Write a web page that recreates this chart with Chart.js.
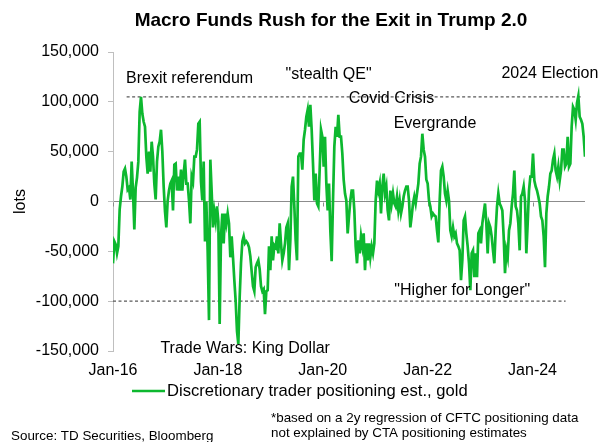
<!DOCTYPE html>
<html>
<head>
<meta charset="utf-8">
<script src="https://cdn.jsdelivr.net/npm/chart.js@4.4.1/dist/chart.umd.min.js"></script>
<style>
  html, body { margin: 0; padding: 0; background: #fff; }
  canvas { display: block; }
</style>
</head>
<body>
<canvas id="chart" width="605" height="442"></canvas>
<script>
// Discretionary trader positioning estimate in gold, thousands of lots,
// sampled about every 9.3 days from the start of 2016.
var startYear = 2016.0;
var stepYears = 0.025424;
var positioningK = [
  -62, -40, -43, -52, -45, -8, 5, 15, 30, 33, 25, 12, 14, 2, 40, 10, -28, 14, 24, 40,
  90, 105, 88, 80, 75, 45, 28, 50, 30, 60, 45, 18, 2, 40, 55, 60, 72, 50, 15, -10,
  -26, 1, 11, 18, 21, -9, 37, 38, 11, 25, 11, 32, 11, 28, 42, 18,
  18, 1, -22, 25, 20, 45, 45, 52, 78, 80, 20, 1, 40, -40, 0, -50, -119, 42, 10, -26,
  -10, -20, -5, -20, -123, -35, -12, -42, -12, -22, -12, -22, -56, -35, -56, -79, -100, -130, -143, -96,
  -62, -40, -35, -42, -40, -42, -46, -55, -70, -85, -90, -66, -62, -59, -68, -85, -90, -88, -113, -90,
  -89, -45, -69, -35, -59, -44, -46, -35, -52, -22, -42, -59, -52, -42, -26, -22, -69, -39, 15, 25,
  -5, -39, -59, 45, 48, 48, 32, 62, 72, 85, 92, 75, 97, 72, 38, 1, 28, -2, -5, 32,
  72, 65, 35, 65, 18, -9, 18, -29, -60, 1, 55, 75, 65, 87, 65, 65, 48, 22, 8, 1,
  -32, -15, 1, 11, 11, -9, -45, -62, -39, -52, -35, -45, -32, -69, -42, -59, -42, -56, -45, -52,
  -42, 1, 21, 11, 18, -12, 15, 28, 8, 15, -9, -19, 11, -2, 8, -2, -5, 5, -9, 1,
  -12, -5, 5, 11, 15, 15, 1, -26, -15, -2, 5, -2, 8, 18, 38, 45, 68, 52, 45, 22,
  18, 1, -5, -15, -12, -14, -15, -29, -41, 1, 31, 35, 25, 8, 1, 11, 1, -29, -35, -26,
  -35, -32, -42, -45, -49, -79, -59, -19, -15, -32, -45, -62, -89, -52, -49, -76, -52, -76, -32, -29,
  -42, -22, -12, -2, -22, -52, -22, -26, -35, -49, -62, -29, -5, 8, -2, -5, -9, -35, -72, -49,
  -56, -29, -22, -5, 8, 31, -5, -9, -22, -49, 5, 8, 15, 1, -52, -22, 11, 25, 25, 48,
  21, 15, 11, 5, -2, -15, -19, -35, -66, -12, 5, 15, 28, 31, 42, 48, 31, 25, 35, 21,
  31, 52, 52, 35, 38, 65, 35, 38, 75, 95, 92, 82, 99, 106, 85, 82, 78, 65, 45
];

var tickYears = [2016, 2018, 2020, 2022, 2024];
var tickLabels = ['Jan-16', 'Jan-18', 'Jan-20', 'Jan-22', 'Jan-24'];

// reference levels: [value, from year, to year]
var upperLevel = [105000, 2016.26, 2024.94];
var lowerLevel = [-100000, 2016.0, 2024.63];

var eventNames = ['Brexit referendum', '"stealth QE"', 'Covid Crisis', 'Evergrande',
  '2024 Election', '"Higher for Longer"', 'Trade Wars: King Dollar'];
var eventYears = [2017.46, 2020.11, 2021.31, 2022.14, 2024.33, 2022.66, 2018.52];
var eventLevels = [123500, 127000, 103500, 78500, 128600, -89500, -148000];

var GREEN = '#0db82f';
var FONT = '"Liberation Sans", Arial, sans-serif';

var points = positioningK.map(function(v, i) {
  return { x: startYear + i * stepYears, y: v * 1000 };
});

function levelLine(level) {
  return {
    data: [{ x: level[1], y: level[0] }, { x: level[2], y: level[0] }],
    borderColor: '#595959',
    borderWidth: 1.3,
    borderDash: [3, 2.5],
    pointRadius: 0
  };
}

var overlay = {
  id: 'overlay',
  beforeDatasetsDraw: function(chart) {
    // small marks on the zero line under each date label
    var ctx = chart.ctx;
    var y0 = Math.round(chart.scales.y.getPixelForValue(0)) + 0.5;
    ctx.save();
    ctx.strokeStyle = '#8c8c8c';
    ctx.lineWidth = 1;
    tickYears.forEach(function(yr) {
      var x = Math.round(chart.scales.x.getPixelForValue(yr)) + 0.5;
      ctx.beginPath();
      ctx.moveTo(x, y0);
      ctx.lineTo(x, y0 + 4);
      ctx.stroke();
    });
    ctx.restore();
  },
  afterDraw: function(chart) {
    var ctx = chart.ctx;
    var xs = chart.scales.x, ys = chart.scales.y;
    ctx.save();
    ctx.fillStyle = '#000';
    ctx.textBaseline = 'middle';

    ctx.textAlign = 'center';
    ctx.font = 'bold 19px ' + FONT;
    ctx.fillText('Macro Funds Rush for the Exit in Trump 2.0', 331, 21);

    ctx.font = '16px ' + FONT;
    eventNames.forEach(function(name, i) {
      ctx.fillText(name, xs.getPixelForValue(eventYears[i]), ys.getPixelForValue(eventLevels[i]));
    });

    // legend
    ctx.strokeStyle = GREEN;
    ctx.lineWidth = 2.7;
    ctx.beginPath();
    ctx.moveTo(132, 391);
    ctx.lineTo(165, 391);
    ctx.stroke();
    ctx.textAlign = 'left';
    ctx.font = '16.6px ' + FONT;
    ctx.fillText(chart.data.datasets[0].label, 167, 391);

    ctx.font = '13.4px ' + FONT;
    ctx.fillText('Source: TD Securities, Bloomberg', 11, 436);
    ctx.fillText('*based on a 2y regression of CFTC positioning data', 271, 418);
    ctx.fillText('not explained by CTA positioning estimates', 271, 433);
    ctx.restore();
  }
};

new Chart(document.getElementById('chart'), {
  type: 'line',
  data: {
    datasets: [
      {
        label: 'Discretionary trader positioning est., gold',
        data: points,
        borderColor: GREEN,
        borderWidth: 2.7,
        pointRadius: 0,
        tension: 0
      },
      levelLine(upperLevel),
      levelLine(lowerLevel)
    ]
  },
  plugins: [overlay],
  options: {
    responsive: false,
    devicePixelRatio: 1,
    animation: false,
    layout: { padding: { top: 52, right: 20, bottom: 55, left: 0 } },
    plugins: {
      legend: { display: false },
      title: { display: false },
      tooltip: { enabled: false }
    },
    scales: {
      x: {
        type: 'linear',
        min: 2016,
        max: 2025,
        grid: { display: false, drawTicks: false },
        border: { display: false },
        afterBuildTicks: function(scale) {
          scale.ticks = tickYears.map(function(v) { return { value: v }; });
        },
        afterFit: function(scale) { scale.height = 36; },
        ticks: {
          autoSkip: false,
          maxRotation: 0,
          padding: 10,
          color: '#000',
          font: { family: FONT, size: 16 },
          callback: function(value) {
            var i = tickYears.indexOf(value);
            return i >= 0 ? tickLabels[i] : '';
          }
        }
      },
      y: {
        min: -150000,
        max: 150000,
        afterFit: function(scale) { scale.width = 113; },
        grid: {
          color: function(c) { return c.tick && c.tick.value === 0 ? '#8c8c8c' : 'rgba(0,0,0,0)'; },
          tickColor: '#bfbfbf',
          tickLength: 5,
          lineWidth: 1
        },
        border: { display: true, color: '#bfbfbf' },
        title: {
          display: true,
          text: 'lots',
          color: '#000',
          font: { family: FONT, size: 16 },
          padding: { top: 11, bottom: 0 }
        },
        ticks: {
          stepSize: 50000,
          padding: 9,
          color: '#000',
          font: { family: FONT, size: 16 },
          callback: function(value) { return value.toLocaleString('en-US'); }
        }
      }
    }
  }
});
</script>
</body>
</html>
